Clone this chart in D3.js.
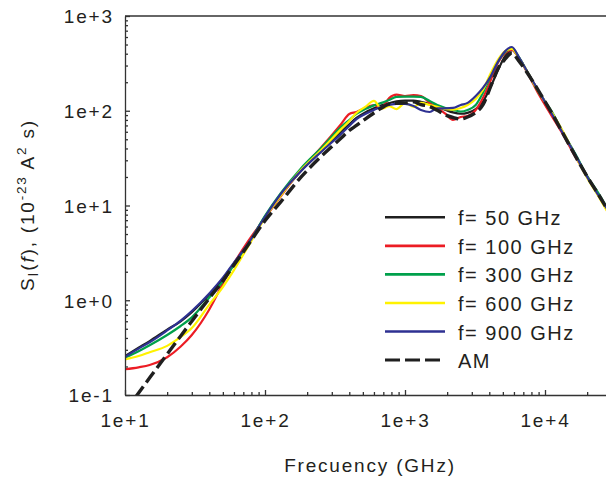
<!DOCTYPE html>
<html>
<head>
<meta charset="utf-8">
<script src="https://cdn.jsdelivr.net/npm/d3@7/dist/d3.min.js"></script>
<style>
  html, body { margin: 0; padding: 0; background: #fff; }
  svg { display: block; font-family: "Liberation Sans", Arial, sans-serif; }
</style>
</head>
<body>
<svg id="chart" width="606" height="482"></svg>
<script>
// ---------------- data ----------------
const freq = [10, 12.5, 15, 20, 25, 30, 40, 50, 60, 75, 100, 130, 180, 250, 350, 400, 450, 520, 600, 680, 770, 870, 1000, 1150, 1300, 1500, 1700, 1950, 2200, 2500, 2800, 3200, 3600, 4100, 4600, 5200, 5800, 6500, 7500, 9000, 11000, 13500, 16500, 20000, 24000, 28000];

const s50  = [0.258, 0.315, 0.37, 0.49, 0.60, 0.75, 1.15, 1.68, 2.45, 3.85, 7.6, 13, 23, 37, 60, 72, 84, 96, 106, 114, 120, 126, 128, 128, 124, 118, 110, 102, 96, 93, 95, 104, 125, 180, 265, 380, 440, 365, 254, 160, 99, 57.5, 34, 20.2, 13, 9.0];
const s100 = [0.187, 0.196, 0.207, 0.250, 0.325, 0.43, 0.80, 1.50, 2.45, 4.1, 7.4, 12.6, 23.7, 40.4, 72.6, 92.5, 97, 107, 115, 107, 136, 148, 143, 146, 143, 121, 107, 92.5, 80, 86, 88, 102, 136, 211, 319, 407, 438, 361, 250, 150, 91.4, 55.6, 32.5, 20.5, 12.9, 8.75];
const s300 = [0.247, 0.290, 0.335, 0.43, 0.535, 0.66, 1.07, 1.58, 2.36, 3.8, 7.8, 13.6, 24.5, 40, 67.5, 79.9, 92.5, 104, 114, 121, 130, 140, 141, 141, 140, 127, 115, 107, 102, 98, 102, 115, 154, 233, 327, 417, 459, 369, 256, 158, 102, 58.4, 34.9, 20.5, 13.6, 9.2];
const s600 = [0.238, 0.258, 0.283, 0.33, 0.41, 0.51, 0.90, 1.38, 2.08, 3.6, 7.4, 12.8, 23.5, 38, 64, 78, 94.7, 110, 127, 105, 112, 104, 121, 110, 121, 115, 110, 104, 103, 107, 115, 133, 166, 250, 343, 428, 449, 361, 256, 158, 100, 59.7, 33.3, 19.5, 12.6, 8.5];
const s900 = [0.253, 0.309, 0.36, 0.48, 0.61, 0.77, 1.18, 1.73, 2.5, 3.86, 7.6, 13.3, 23, 36.5, 57, 69, 81.8, 92.5, 102, 110, 115, 118, 118, 112, 102, 97, 106, 106, 107, 115, 121, 143, 174, 233, 327, 428, 471, 369, 256, 162, 97, 57, 34.1, 20, 12.9, 9.0];
const sAM  = [0.067, 0.105, 0.152, 0.27, 0.42, 0.6, 1.05, 1.6, 2.35, 3.75, 6.9, 11.0, 19.8, 32.6, 51.6, 61.9, 69.9, 81.8, 94.7, 107, 118, 120, 121, 124, 116, 111, 101, 90, 84.9, 81.8, 85.9, 95.9, 115, 182, 276, 352, 407, 336, 249, 162, 98.7, 57, 33.1, 20.2, 13.2, 9.0];

const seriesNames = ["f= 50 GHz", "f= 100 GHz", "f= 300 GHz", "f= 600 GHz", "f= 900 GHz", "AM"];
const seriesValues = [s50, s100, s300, s600, s900, sAM];
const seriesColors = ["#1f1f1f", "#ec1c24", "#00a04b", "#fff200", "#2e3192", "#1f1f1f"];

const xMajorTicks = [10, 100, 1000, 10000];
const xTickLabels = ["1e+1", "1e+2", "1e+3", "1e+4"];
const yMajorTicks = [0.1, 1, 10, 100, 1000];
const yTickLabels = ["1e-1", "1e+0", "1e+1", "1e+2", "1e+3"];

// ---------------- layout ----------------
const W = 606, H = 482;
const L = 125, T = 16, B = 395, DEC = 140;
const svg = d3.select("#chart");
const ink = "#231f20";
const LS = "1.8px";

const x = d3.scaleLog().domain([10, 1e5]).range([L, L + 4 * DEC]);
const y = d3.scaleLog().domain([0.1, 1000]).range([B, T]);

const xMaxVis = x.invert(W);
const xMinor = [];
[10, 100, 1000, 10000].forEach(d => { for (let k = 2; k <= 9; k++) if (d * k <= xMaxVis) xMinor.push(d * k); });
const yMinor = [];
[0.1, 1, 10, 100].forEach(d => { for (let k = 2; k <= 9; k++) yMinor.push(d * k); });

// clip
svg.append("defs").append("clipPath").attr("id", "plotclip")
  .append("rect").attr("x", L).attr("y", T).attr("width", W - L).attr("height", B - T);

// curves
const line = d3.line()
  .x(d => x(d[0]))
  .y(d => y(d[1]))
  .curve(d3.curveMonotoneX);

const gLines = svg.append("g").attr("clip-path", "url(#plotclip)");
seriesValues.forEach((vals, i) => {
  const pts = freq.map((f, j) => [f, vals[j]]);
  gLines.append("path")
    .attr("d", line(pts))
    .attr("fill", "none")
    .attr("stroke", seriesColors[i])
    .attr("stroke-width", i === 5 ? 3.4 : 2.2)
    .attr("stroke-dasharray", i === 5 ? "13,5" : null)
    .attr("stroke-linejoin", "round");
});

// axes
const axisColor = "#333";
const gxMinor = svg.append("g").attr("transform", `translate(0,${B})`)
  .call(d3.axisBottom(x).tickValues(xMinor).tickSize(-3).tickSizeOuter(0).tickFormat(""));
gxMinor.select(".domain").remove();
const gx = svg.append("g").attr("transform", `translate(0,${B})`)
  .call(d3.axisBottom(x).tickValues(xMajorTicks).tickSize(-5).tickSizeOuter(0)
    .tickFormat((d, i) => xTickLabels[i]));
gx.selectAll("text").attr("y", 32).attr("dy", null)
  .style("font-size", "19px").style("letter-spacing", LS).attr("fill", ink);

const gyMinor = svg.append("g").attr("transform", `translate(${L},0)`)
  .call(d3.axisLeft(y).tickValues(yMinor).tickSize(-3).tickSizeOuter(0).tickFormat(""));
gyMinor.select(".domain").remove();
const gy = svg.append("g").attr("transform", `translate(${L},0)`)
  .call(d3.axisLeft(y).tickValues(yMajorTicks).tickSize(-5).tickSizeOuter(0)
    .tickFormat((d, i) => yTickLabels[i]));
gy.selectAll("text").attr("x", -11.2).attr("dy", "0.36em")
  .style("font-size", "19px").style("letter-spacing", LS).attr("fill", ink);

[gx, gy, gxMinor, gyMinor].forEach(g => {
  g.selectAll(".domain, line").attr("stroke", axisColor).attr("stroke-width", 1.3);
  g.attr("font-family", null);
});
// top frame line
svg.append("line").attr("x1", L).attr("x2", W).attr("y1", T).attr("y2", T)
  .attr("stroke", axisColor).attr("stroke-width", 1.3);

// x title
svg.append("text").attr("x", 370).attr("y", 472).attr("text-anchor", "middle")
  .style("font-size", "19px").style("letter-spacing", LS).attr("fill", ink)
  .text("Frecuency (GHz)");

// y title
const yt = svg.append("text")
  .attr("transform", "translate(34,205) rotate(-90)")
  .attr("text-anchor", "middle")
  .style("font-size", "19px").style("letter-spacing", LS).attr("fill", ink);
yt.append("tspan").text("S");
yt.append("tspan").attr("dy", 4).style("font-size", "14px").text("I");
yt.append("tspan").attr("dy", -4).text("(");
yt.append("tspan").style("font-style", "italic").text("f");
yt.append("tspan").text("), (10");
yt.append("tspan").attr("dy", -8).style("font-size", "13.5px").text("-23");
yt.append("tspan").attr("dy", 8).text(" A");
yt.append("tspan").attr("dy", -8).style("font-size", "13.5px").text("2");
yt.append("tspan").attr("dy", 8).text(" s)");

// legend
const lg = svg.append("g");
seriesNames.forEach((name, i) => {
  const ly = 217.3 + i * 28.55;
  lg.append("line")
    .attr("x1", 385).attr("x2", 445).attr("y1", ly).attr("y2", ly)
    .attr("stroke", seriesColors[i])
    .attr("stroke-width", i === 5 ? 3 : 2.6)
    .attr("stroke-dasharray", i === 5 ? "15,5" : null);
  lg.append("text").attr("x", 458).attr("y", ly + 8)
    .style("font-size", "20px").style("letter-spacing", "1.5px").attr("fill", ink)
    .text(name);
});
</script>
</body>
</html>
